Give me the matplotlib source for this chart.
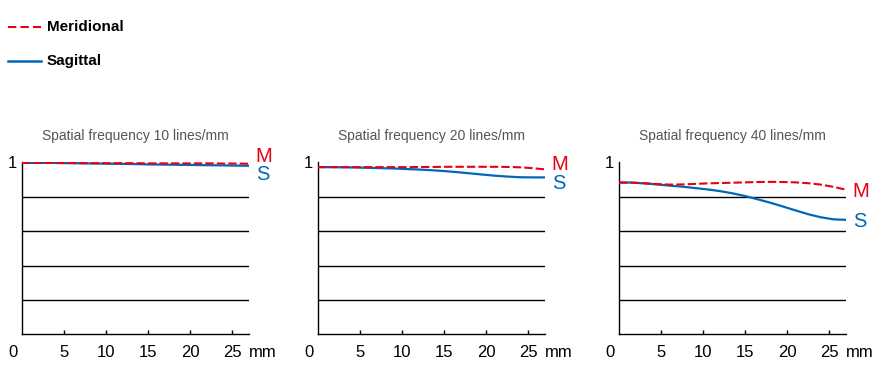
import matplotlib.pyplot as plt
import numpy as np

plt.rcParams['font.family'] = ['Liberation Sans', 'DejaVu Sans']

RED = '#e60012'
BLUE = '#0068b7'

# image height in mm
x = [0, 1.5, 3, 4.5, 6, 7.5, 9, 10.5, 12, 13.5, 15, 16.5, 18, 19.5, 21, 22.5, 24, 25.5, 27]

titles = ['Spatial frequency 10 lines/mm',
          'Spatial frequency 20 lines/mm',
          'Spatial frequency 40 lines/mm']

mer10 = [1.0, 1.0, 1.0, 0.999, 0.999, 0.998, 0.998, 0.998, 0.998, 0.998, 0.997, 0.997,
         0.997, 0.997, 0.997, 0.997, 0.996, 0.996, 0.995]
sag10 = [1.0, 1.0, 1.0, 0.999, 0.998, 0.997, 0.996, 0.995, 0.994, 0.993, 0.991, 0.990,
         0.989, 0.988, 0.987, 0.986, 0.985, 0.984, 0.983]

mer20 = [0.975, 0.975, 0.975, 0.975, 0.975, 0.975, 0.975, 0.975, 0.976, 0.976, 0.977, 0.977,
         0.977, 0.977, 0.977, 0.976, 0.974, 0.969, 0.962]
sag20 = [0.975, 0.975, 0.974, 0.973, 0.971, 0.969, 0.967, 0.964, 0.961, 0.957, 0.952, 0.946,
         0.939, 0.932, 0.925, 0.920, 0.916, 0.915, 0.915]

mer40 = [0.885, 0.884, 0.881, 0.876, 0.873, 0.874, 0.877, 0.880, 0.882, 0.884, 0.886, 0.888,
         0.889, 0.888, 0.886, 0.881, 0.873, 0.860, 0.843]
sag40 = [0.885, 0.885, 0.880, 0.874, 0.867, 0.861, 0.853, 0.845, 0.835, 0.822, 0.806, 0.787,
         0.767, 0.745, 0.722, 0.700, 0.682, 0.670, 0.667]

meridional = [mer10, mer20, mer40]
sagittal = [sag10, sag20, sag40]

# y of the "M" / "S" end labels
m_label_y = [1.035, 0.988, 0.831]
s_label_y = [0.93, 0.877, 0.655]

fig = plt.figure(figsize=(8.81, 3.8), dpi=100)

lefts = [22 / 881, 318 / 881, 619 / 881]
for i in range(3):
    ax = fig.add_axes([lefts[i], 46 / 380, 227 / 881, 172 / 380])
    ax.set_xlim(0, 27)
    ax.set_ylim(0, 1.005)
    for g in [0.2, 0.4, 0.6, 0.8]:
        ax.axhline(g, color='black', lw=1.0, zorder=1)
    ax.plot(x, sagittal[i], color=BLUE, lw=1.6, zorder=3)
    ax.plot(x, meridional[i], color=RED, lw=1.5, dashes=(4, 1.5), zorder=4)
    ax.spines['top'].set_visible(False)
    ax.spines['right'].set_visible(False)
    ax.spines['left'].set_linewidth(1.0)
    ax.spines['bottom'].set_linewidth(1.0)
    ax.set_xticks([5, 10, 15, 20, 25])
    ax.set_yticks([])
    ax.tick_params(axis='x', direction='in', length=3, width=1, labelsize=12, pad=8)
    ax.set_title(titles[i], fontsize=10, color='#555555', pad=16)
    ax.text(-1.1, -0.065, '0', fontsize=12, ha='center', va='top', clip_on=False)
    ax.text(-1.1, 0.995, '1', fontsize=12, ha='center', va='center', clip_on=False)
    ax.text(28.7, -0.065, 'mm', fontsize=12, ha='center', va='top', clip_on=False)
    ax.text(28.7, m_label_y[i], 'M', fontsize=14.5, color=RED, ha='center', va='center', clip_on=False)
    ax.text(28.7, s_label_y[i], 'S', fontsize=14.5, color=BLUE, ha='center', va='center', clip_on=False)

# legend
fig.add_artist(plt.Line2D([8 / 881, 41 / 881], [1 - 27 / 380] * 2, color=RED, lw=1.5, dashes=(4, 2)))
fig.add_artist(plt.Line2D([8 / 881, 41 / 881], [1 - 61 / 380] * 2, color=BLUE, lw=1.8))
fig.text(47 / 881, 1 - 27 / 380, 'Meridional', fontsize=11, fontweight='bold', va='center')
fig.text(47 / 881, 1 - 61 / 380, 'Sagittal', fontsize=11, fontweight='bold', va='center')

fig.savefig('out.png', dpi=100)
